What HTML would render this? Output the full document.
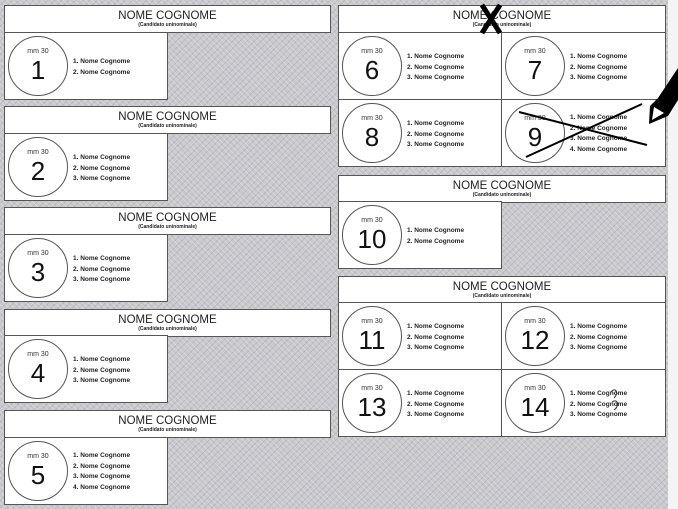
<!DOCTYPE html>
<html><head><meta charset="utf-8"><style>
body{margin:0;width:678px;height:509px;overflow:hidden;font-family:"Liberation Sans",sans-serif;
background-color:#c9c8cd;background-image:repeating-linear-gradient(45deg,rgba(255,255,255,.25) 0 1px,transparent 1px 4px),repeating-linear-gradient(-45deg,rgba(120,110,130,.2) 0 1px,transparent 1px 5px);position:relative}
.h{position:absolute;background:#fff;border:1px solid #555;box-sizing:border-box;text-align:center;height:28px}
.h b{display:block;font-weight:normal;font-size:11.5px;margin-top:4px;color:#222;line-height:12px}
.h i{display:block;font-style:normal;font-weight:bold;font-size:5px;line-height:6px;color:#222}
.c{position:absolute;background:#fff;border:1px solid #555;box-sizing:border-box;width:164px;height:68px}
.ci{position:absolute;left:3px;top:3px;width:60px;height:60px;border:1px solid #555;border-radius:50%;box-sizing:border-box;text-align:center}
.ci s{display:block;text-decoration:none;font-size:7px;margin-top:11px;color:#333}
.ci u{display:block;text-decoration:none;font-size:26px;line-height:30px;color:#111}
.l{position:absolute;left:68px;font-size:6.5px;line-height:10.5px;color:#222;font-weight:bold}
</style></head><body>
<div style="position:absolute;right:0;top:0;width:10px;height:509px;background:#f4f4f4"></div>

<div class="h" style="left:4px;top:5px;width:327px"><b>NOME COGNOME</b><i>(Candidato uninominale)</i></div>
<div class="c" style="left:4px;top:32px"><div class="ci"><s>mm 30</s><u>1</u></div><div class="l" style="top:24px">1. Nome Cognome<br>2. Nome Cognome</div></div>

<div class="h" style="left:4px;top:106px;width:327px"><b>NOME COGNOME</b><i>(Candidato uninominale)</i></div>
<div class="c" style="left:4px;top:133px"><div class="ci"><s>mm 30</s><u>2</u></div><div class="l" style="top:19px">1. Nome Cognome<br>2. Nome Cognome<br>3. Nome Cognome</div></div>

<div class="h" style="left:4px;top:207px;width:327px"><b>NOME COGNOME</b><i>(Candidato uninominale)</i></div>
<div class="c" style="left:4px;top:234px"><div class="ci"><s>mm 30</s><u>3</u></div><div class="l" style="top:19px">1. Nome Cognome<br>2. Nome Cognome<br>3. Nome Cognome</div></div>

<div class="h" style="left:4px;top:309px;width:327px"><b>NOME COGNOME</b><i>(Candidato uninominale)</i></div>
<div class="c" style="left:4px;top:335px"><div class="ci"><s>mm 30</s><u>4</u></div><div class="l" style="top:19px">1. Nome Cognome<br>2. Nome Cognome<br>3. Nome Cognome</div></div>

<div class="h" style="left:4px;top:410px;width:327px"><b>NOME COGNOME</b><i>(Candidato uninominale)</i></div>
<div class="c" style="left:4px;top:437px"><div class="ci"><s>mm 30</s><u>5</u></div><div class="l" style="top:13px">1. Nome Cognome<br>2. Nome Cognome<br>3. Nome Cognome<br>4. Nome Cognome</div></div>

<div class="h" style="left:338px;top:5px;width:328px"><b>NOME COGNOME</b><i>(Candidato uninominale)</i></div>
<div class="c" style="left:338px;top:32px"><div class="ci"><s>mm 30</s><u>6</u></div><div class="l" style="top:19px">1. Nome Cognome<br>2. Nome Cognome<br>3. Nome Cognome</div></div>
<div class="c" style="left:501px;top:32px;width:165px"><div class="ci"><s>mm 30</s><u>7</u></div><div class="l" style="top:19px">1. Nome Cognome<br>2. Nome Cognome<br>3. Nome Cognome</div></div>
<div class="c" style="left:338px;top:99px"><div class="ci"><s>mm 30</s><u>8</u></div><div class="l" style="top:19px">1. Nome Cognome<br>2. Nome Cognome<br>3. Nome Cognome</div></div>
<div class="c" style="left:501px;top:99px;width:165px"><div class="ci"><s>mm 30</s><u>9</u></div><div class="l" style="top:13px">1. Nome Cognome<br>2. Nome Cognome<br>3. Nome Cognome<br>4. Nome Cognome</div></div>

<div class="h" style="left:338px;top:175px;width:328px"><b>NOME COGNOME</b><i>(Candidato uninominale)</i></div>
<div class="c" style="left:338px;top:201px"><div class="ci"><s>mm 30</s><u>10</u></div><div class="l" style="top:24px">1. Nome Cognome<br>2. Nome Cognome</div></div>

<div class="h" style="left:338px;top:276px;width:328px"><b>NOME COGNOME</b><i>(Candidato uninominale)</i></div>
<div class="c" style="left:338px;top:302px"><div class="ci"><s>mm 30</s><u>11</u></div><div class="l" style="top:19px">1. Nome Cognome<br>2. Nome Cognome<br>3. Nome Cognome</div></div>
<div class="c" style="left:501px;top:302px;width:165px"><div class="ci"><s>mm 30</s><u>12</u></div><div class="l" style="top:19px">1. Nome Cognome<br>2. Nome Cognome<br>3. Nome Cognome</div></div>
<div class="c" style="left:338px;top:369px"><div class="ci"><s>mm 30</s><u>13</u></div><div class="l" style="top:19px">1. Nome Cognome<br>2. Nome Cognome<br>3. Nome Cognome</div></div>
<div class="c" style="left:501px;top:369px;width:165px"><div class="ci"><s>mm 30</s><u>14</u></div><div class="l" style="top:19px">1. Nome Cognome<br>2. Nome Cognome<br>3. Nome Cognome</div></div>

<svg style="position:absolute;left:0;top:0" width="678" height="509">
<g stroke="#000" stroke-width="5"><line x1="482" y1="5" x2="500" y2="33"/><line x1="500" y1="5" x2="482" y2="33"/></g>
<g stroke="#000" stroke-width="2"><line x1="519" y1="112" x2="647" y2="145"/><line x1="526" y1="157" x2="642" y2="104"/></g>
<polygon points="678,68 678,100 668,116 649,124 650,106 658,98" fill="#000"/>
<polygon points="652,120 654,107 664,113" fill="#fff"/>
<path d="M611 392c5-6 8 2 3 6M612 402c6-4 8 4 2 8" stroke="#333" fill="none" stroke-width="1"/>
</svg>
</body></html>
